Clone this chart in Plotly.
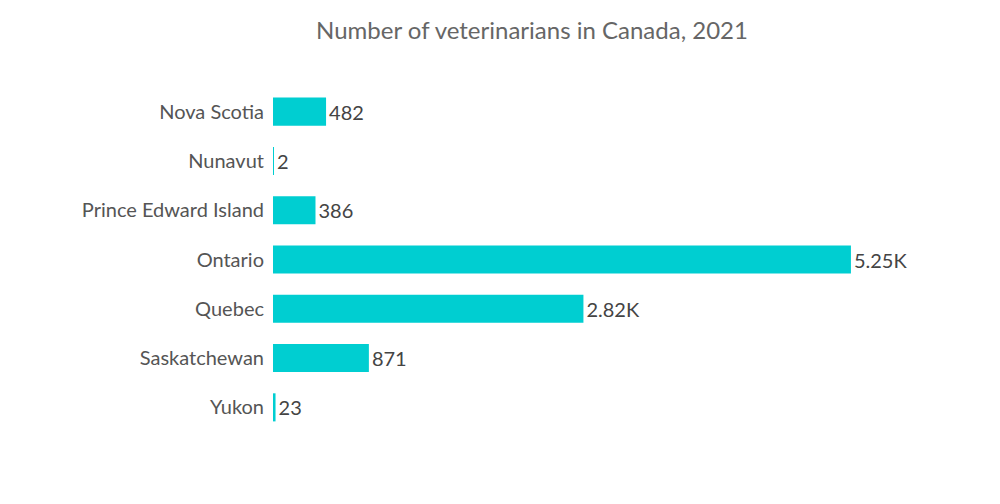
import plotly.graph_objects as go

provinces = ["Nova Scotia", "Nunavut", "Prince Edward Island", "Ontario", "Quebec", "Saskatchewan", "Yukon"]
vets = [482, 2, 386, 5250, 2820, 871, 23]

def fmt(v):
    if v >= 1000:
        return f"{v/1000:.3g}K"
    return str(v)

labels = [fmt(v) for v in vets]

fig = go.Figure(go.Bar(
    x=vets, y=provinces, orientation="h",
    marker=dict(color="#00CED1", line=dict(width=0)),
    width=0.57,
    text=labels, textposition="outside", cliponaxis=False,
    textfont=dict(family="Lato, sans-serif", size=20, color="#444444"),
    hoverinfo="skip",
))

fig.update_layout(
    width=1000, height=504,
    paper_bgcolor="white", plot_bgcolor="white",
    margin=dict(l=265, r=58, t=79, b=80),
    title=dict(text="Number of veterinarians in Canada, 2021", x=0.524, xanchor="center",
               y=0.046, yref="container", yanchor="middle",
               font=dict(family="Lato, sans-serif", size=24, color="#666666")),
    xaxis=dict(range=[0, 6150], visible=False, showgrid=False, zeroline=False),
    yaxis=dict(autorange="reversed", showgrid=False, zeroline=False, showline=False,
               ticks="", ticklabelstandoff=8,
               tickfont=dict(family="Lato, sans-serif", size=20, color="#555555")),
    showlegend=False,
    font=dict(family="Lato, sans-serif"),
)
fig.update_layout(title_y=1 - 23/504)

fig.write_html("out.html")
